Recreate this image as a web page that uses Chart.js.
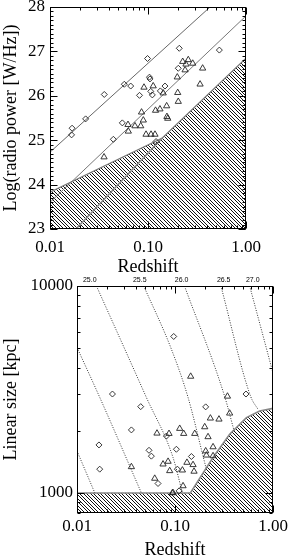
<!DOCTYPE html>
<html><head><meta charset="utf-8">
<script src="https://cdn.jsdelivr.net/npm/chart.js@4.4.1/dist/chart.umd.min.js"></script>
<style>
html,body{margin:0;padding:0;background:#fff;width:289px;height:557px;overflow:hidden}
#c1{position:absolute;left:0;top:0}
#c2{position:absolute;left:0;top:270px}
</style></head><body>
<canvas id="c1" width="289" height="280"></canvas>
<canvas id="c2" width="289" height="287"></canvas>
<script>
// ---------- axis ticks ----------
const redshiftTicks = [0.01, 0.1, 1];
const redshiftTickLabels = ['0.01', '0.10', '1.00'];
const powerTicks = [23, 24, 25, 26, 27, 28];
const sizeTicks = [1000, 10000];
const sizeTickLabels = ['1000', '10000'];

// ---------- top panel: log radio power vs redshift ----------
const topDiamondZ = [0.0166, 0.0168, 0.0231, 0.0358, 0.0443, 0.0547, 0.0573, 0.0666, 0.0819, 0.0989,
                     0.1035, 0.1047, 0.1066, 0.1107, 0.1336, 0.149, 0.2085, 0.2037, 0.5346, 0.1208];
const topDiamondP = [25.12, 25.27, 25.48, 26.03, 25.02, 25.39, 26.26, 26.22, 26.01, 26.84,
                     26.42, 26.38, 26.10, 26.02, 26.11, 26.22, 27.07, 26.62, 27.03, 24.97];
const topTriangleZ = [0.0356, 0.0630, 0.0625, 0.0736, 0.0843, 0.0896, 0.0859, 0.091, 0.0955, 0.1074,
                      0.1178, 0.113, 0.1194, 0.1324, 0.143, 0.155, 0.156, 0.159, 0.199, 0.201,
                      0.2037, 0.226, 0.2576, 0.244, 0.286, 0.239, 0.361, 0.340];
const topTriangleP = [24.62, 25.20, 25.35, 25.32, 25.32, 25.45, 25.63, 26.19, 25.13, 25.13,
                      25.13, 26.22, 25.67, 25.70, 26.06, 25.77, 25.53, 25.49, 26.42, 26.07,
                      25.87, 26.77, 26.81, 26.71, 26.73, 26.58, 26.62, 26.26];
const limitUpperZ = [0.01, 0.43];
const limitUpperP = [24.73, 28.0];
const limitMidZ = [0.01, 1.0];
const limitMidP = [23.6, 27.8];
const limitLowZ = [0.0184, 0.14];
const limitLowP = [23.0, 25.05];
const excludedTopZ = [0.01, 0.14, 1.0];
const excludedTopP = [23.83, 25.05, 26.85];

// ---------- bottom panel: linear size vs redshift ----------
const botDiamondZ = [0.0970, 0.0230, 0.0447, 0.2056, 0.530, 0.0359, 0.01675, 0.01705, 0.0817, 0.0543,
                     0.0574, 0.0671, 0.1033, 0.147, 0.1057, 0.110];
const botDiamondD = [5703, 3006, 2612, 2606, 3006, 2016, 1706, 1303, 1883, 1607,
                     1506, 1111, 1626, 1500, 1303, 1023];
const botTriangleZ = [0.1445, 0.343, 0.0359, 0.0655, 0.0869, 0.0755, 0.0850, 0.0883, 0.0621, 0.0955,
                      0.2296, 0.281, 0.361, 0.1117, 0.1227, 0.159, 0.201, 0.2173, 0.2445, 0.2056,
                      0.209, 0.2445, 0.1324, 0.1528, 0.1564, 0.119, 0.1208, 0.094];
const botTriangleD = [3656, 2930, 1337, 1942, 1935, 1377, 1419, 1279, 1175, 1002,
                      2296, 2270, 2427, 2047, 1935, 1935, 2084, 1866, 1668, 1594,
                      1521, 1510, 1403, 1368, 1271, 1288, 1081, 1000];
// constant-power curves
const curveZ = [
  [0.01, 0.0152],
  [0.01, 0.01706, 0.0454],
  [0.0158, 0.051, 0.0955, 0.119],
  [0.048, 0.0918, 0.1358, 0.193, 0.2075],
  [0.125, 0.321, 0.402],
  [0.294, 0.591, 0.703],
  [0.578, 0.964, 1.0]
];
const curveD = [
  [1596, 1000],
  [5047, 2897, 1000],
  [10000, 2897, 1483, 1000],
  [10000, 4955, 2897, 1510, 1318],
  [10000, 2930, 1986],
  [10000, 2930, 2535],
  [10000, 4046, 3784]
];
const powerLabelText = ['25.0', '25.5', '26.0', '26.5', '27.0'];
const powerLabelZ = [0.0135, 0.0437, 0.117, 0.314, 0.621];
const excludedBotZ = [0.01, 0.1435, 0.2443, 0.361, 0.536, 0.731, 1.0];
const excludedBotD = [1000, 1000, 1483, 1923, 2312, 2489, 2564];

// ---------- helpers ----------
const zip = (xs, ys) => xs.map((v, i) => ({x: v, y: ys[i]}));
function hatchPattern() {
  const n = 7;
  const t = document.createElement('canvas'); t.width = n; t.height = n;
  const g = t.getContext('2d');
  g.fillStyle = '#fff'; g.fillRect(0, 0, n, n);
  g.fillStyle = '#111';
  for (let i = 0; i < n; i++) { g.fillRect(i, i, 1, 1); g.fillRect((i + 3) % n, i, 1, 1); }
  return g.createPattern(t, 'repeat');
}
const hatch = hatchPattern();
const SERIF = "'Liberation Serif', 'Times New Roman', serif";

function logMinor(lo, hi) {
  const out = [];
  for (let d = lo; d < hi * 0.999; d *= 10) for (let m = 2; m <= 9; m++) out.push(m * d);
  return out;
}

const frameTicks = {
  id: 'frameTicks',
  afterDatasetsDraw(chart, args, o) {
    const {ctx, chartArea: a, scales: {x, y}} = chart;
    const L = Math.round(a.left) + 0.5, R = Math.round(a.right) - 0.5;
    const T = Math.round(a.top) + 0.5, B = Math.round(a.bottom) - 0.5;
    ctx.save();
    ctx.strokeStyle = '#000'; ctx.lineWidth = 1;
    ctx.beginPath();
    const xt = (v, len) => { const p = Math.round(x.getPixelForValue(v)) + 0.5;
      ctx.moveTo(p, B); ctx.lineTo(p, B - len); ctx.moveTo(p, T); ctx.lineTo(p, T + len); };
    const yt = (v, len) => { const p = Math.round(y.getPixelForValue(v)) + 0.5;
      ctx.moveTo(L, p); ctx.lineTo(L + len, p); ctx.moveTo(R, p); ctx.lineTo(R - len, p); };
    o.xMajor.forEach(v => xt(v, 7)); o.xMinor.forEach(v => xt(v, 3));
    o.yMajor.forEach(v => yt(v, 7)); o.yMinor.forEach(v => yt(v, 3));
    ctx.stroke();
    ctx.strokeRect(L, T, R - L, B - T);
    ctx.restore();
  }
};
const topLabels = {
  id: 'topLabels',
  afterDraw(chart, args, o) {
    if (!o.text) return;
    const {ctx, chartArea: a, scales: {x}} = chart;
    ctx.save();
    ctx.fillStyle = '#000';
    ctx.font = "7px 'Liberation Sans', Arial, sans-serif";
    ctx.textAlign = 'center'; ctx.textBaseline = 'middle';
    o.text.forEach((t, i) => ctx.fillText(t, x.getPixelForValue(o.z[i]), a.top - 6));
    ctx.restore();
  }
};

function pts(data, style, r) {
  return {data, order: 0, showLine: false, pointStyle: style, pointRadius: r, pointBorderColor: '#222',
          pointBackgroundColor: 'rgba(0,0,0,0)', pointBorderWidth: 0.9};
}
function line(data, color, dash, width, extra) {
  return Object.assign({data, order: 1, showLine: true, pointRadius: 0, borderColor: color, borderWidth: width || 1,
          borderDash: dash || [], fill: false, tension: 0}, extra || {});
}

function xScale(h, pad, titlePad) {
  return {
    type: 'logarithmic', min: 0.01, max: 1,
    grid: {display: false, drawTicks: false}, border: {display: false},
    afterBuildTicks: s => { s.ticks = redshiftTicks.map(v => ({value: v})); },
    ticks: {callback: (v, i) => redshiftTickLabels[i], font: {family: SERIF, size: 17}, color: '#000',
            padding: pad, maxRotation: 0, autoSkip: false},
    title: {display: true, text: 'Redshift', font: {family: SERIF, size: 18, lineHeight: 1}, color: '#000',
            padding: {top: 0, bottom: titlePad}},
    afterFit: s => { s.height = h; s.paddingLeft = 0; s.paddingRight = 0; }
  };
}

// ---------- top chart ----------
new Chart(document.getElementById('c1'), {
  type: 'scatter',
  data: {datasets: [
    pts(zip(topDiamondZ, topDiamondP), 'rectRot', 3),
    pts(zip(topTriangleZ, topTriangleP), 'triangle', 3.6),
    line(zip(limitUpperZ, limitUpperP), '#666', [], 1),
    line(zip(limitMidZ, limitMidP), '#777', [], 1),
    line(zip(limitLowZ, limitLowP), '#888', [], 1.5),
    line(zip(excludedTopZ, excludedTopP), '#777', [], 1.2, {order: 10, fill: 'start', backgroundColor: hatch})
  ]},
  options: {
    responsive: false, animation: false, events: [],
    layout: {padding: {left: 0, right: 43, top: 7, bottom: 0}},
    plugins: {legend: {display: false}, tooltip: {enabled: false},
      filler: {drawTime: 'beforeDatasetsDraw'},
      frameTicks: {xMajor: redshiftTicks, xMinor: logMinor(0.01, 1),
        yMajor: powerTicks, yMinor: Array.from({length: 51}, (_, i) => 23 + i * 0.1)}},
    scales: {
      x: xScale(51, 8.5, 3.5),
      y: {
        type: 'linear', min: 23, max: 28,
        grid: {display: false, drawTicks: false}, border: {display: false},
        afterBuildTicks: s => { s.ticks = powerTicks.map(v => ({value: v})); },
        ticks: {font: {family: SERIF, size: 17}, color: '#000', padding: 5},
        title: {display: true, text: 'Log(radio power [W/Hz])', font: {family: SERIF, size: 18, lineHeight: 1.2},
                color: '#000', padding: {top: 0, bottom: 0}},
        afterFit: s => { s.width = 50; s.paddingTop = 0; s.paddingBottom = 0; }
      }
    }
  },
  plugins: [frameTicks]
});
// ---------- bottom chart ----------
const curveSets = curveZ.map((zs, i) => line(zip(zs, curveD[i]), '#333', [1, 1.5], 1,
  {cubicInterpolationMode: 'monotone'}));
new Chart(document.getElementById('c2'), {
  type: 'scatter',
  data: {datasets: [
    pts(zip(botDiamondZ, botDiamondD), 'rectRot', 3),
    pts(zip(botTriangleZ, botTriangleD), 'triangle', 3.6),
    ...curveSets,
    line(zip(excludedBotZ, excludedBotD), '#888', [], 1.6, {order: 10, fill: 'start', backgroundColor: hatch})
  ]},
  options: {
    responsive: false, animation: false, events: [],
    layout: {padding: {left: 0, right: 16, top: 16, bottom: 0}},
    plugins: {legend: {display: false}, tooltip: {enabled: false},
      filler: {drawTime: 'beforeDatasetsDraw'},
      frameTicks: {xMajor: redshiftTicks, xMinor: logMinor(0.01, 1),
        yMajor: sizeTicks, yMinor: [800, 900, 2000, 3000, 4000, 5000, 6000, 7000, 8000, 9000]},
      topLabels: {text: powerLabelText, z: powerLabelZ}},
    scales: {
      x: xScale(44, 3.5, -2),
      y: {
        type: 'logarithmic', min: 800, max: 10000,
        grid: {display: false, drawTicks: false}, border: {display: false},
        afterBuildTicks: s => { s.ticks = sizeTicks.map(v => ({value: v})); },
        ticks: {callback: (v, i) => sizeTickLabels[i], font: {family: SERIF, size: 17}, color: '#000', padding: 4},
        title: {display: true, text: 'Linear size [kpc]', font: {family: SERIF, size: 18, lineHeight: 1.2},
                color: '#000', padding: {top: 0, bottom: 0}},
        afterFit: s => { s.width = 77; s.paddingTop = 0; s.paddingBottom = 0; }
      }
    }
  },
  plugins: [frameTicks, topLabels]
});
</script>
</body></html>
